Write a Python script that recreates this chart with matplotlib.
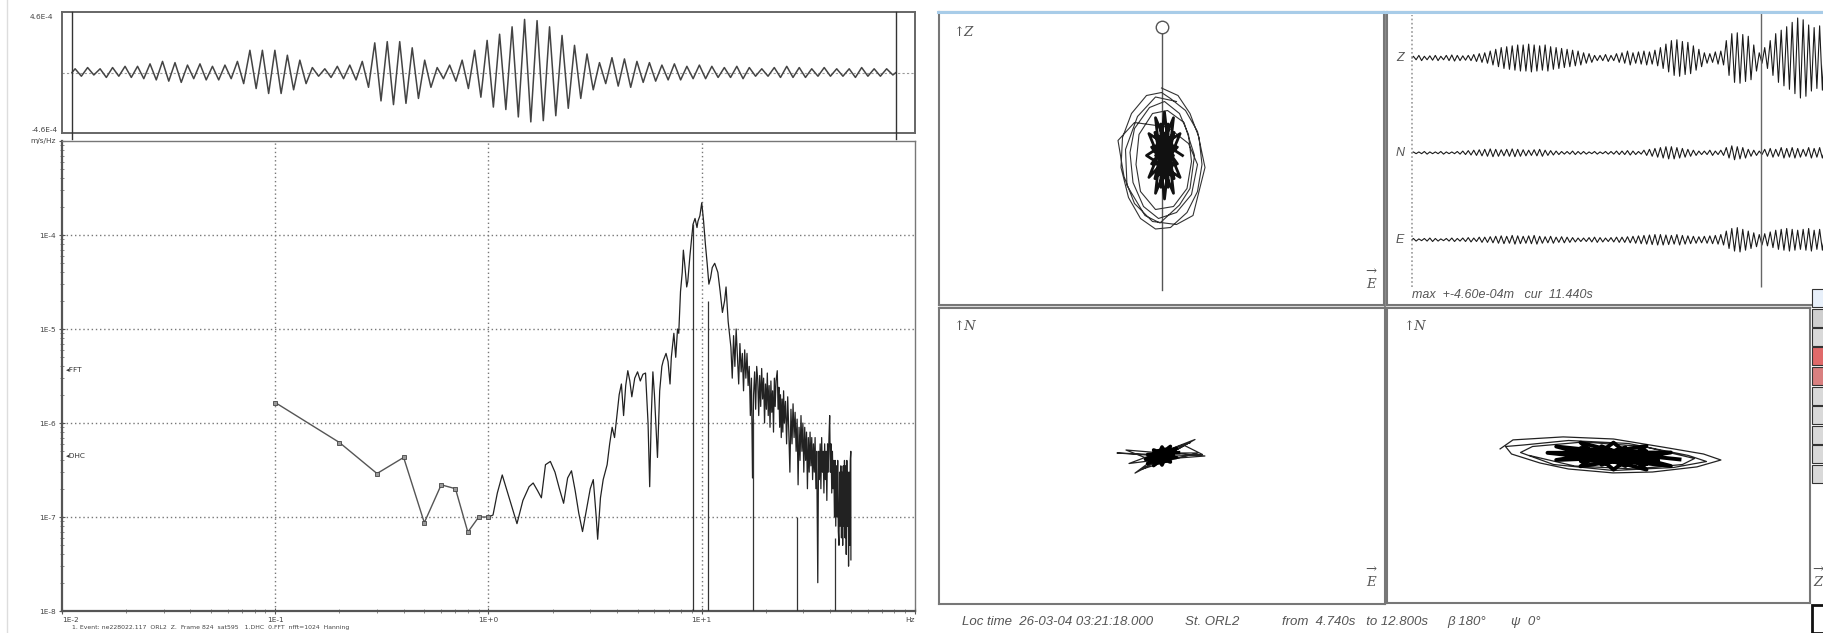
import numpy as np
import matplotlib
matplotlib.use("Agg")
import matplotlib.pyplot as plt
from matplotlib.lines import Line2D
from matplotlib.patches import Rectangle

# ---------------- data ----------------
# top waveform (units 1e-4 m): positive / negative peak of each cycle
wave_up = [0.3, 0.4, 0.3, 0.4, 0.5, 0.5, 0.7, 0.9, 0.8, 0.6, 0.7, 0.5, 0.6,
           0.9, 1.8, 1.8, 1.8, 1.4, 1.0, 0.4, 0.3, 0.5, 0.6,
           0.9, 2.4, 2.5, 2.5, 2.0, 1.0, 0.4, 0.6,
           1.0, 1.8, 2.6, 3.1, 3.7, 4.3, 4.2, 3.7, 3.0, 2.2, 1.5, 0.8,
           1.2, 1.1, 0.9, 0.8, 0.6, 0.7, 0.5, 0.6,
           0.5, 0.4, 0.5, 0.4, 0.3, 0.4, 0.5, 0.4, 0.3, 0.4, 0.3, 0.3, 0.4, 0.3, 0.3]
wave_down = [-0.3, -0.2, -0.4, -0.3, -0.4, -0.5, -0.6, -0.7, -0.8, -0.5, -0.6, -0.6, -0.5,
             -0.9, -1.3, -1.7, -1.7, -1.4, -0.9, -0.3, -0.4, -0.5, -0.6,
             -1.2, -2.3, -2.6, -2.5, -2.1, -1.2, -0.5, -0.7,
             -1.3, -2.0, -2.8, -3.0, -3.6, -4.0, -3.9, -3.5, -2.9, -2.1, -1.4, -0.9,
             -1.1, -1.2, -0.8, -0.7, -0.6, -0.6, -0.5, -0.5,
             -0.4, -0.4, -0.5, -0.3, -0.3, -0.4, -0.4, -0.4, -0.3, -0.3, -0.3, -0.4, -0.3, -0.3, -0.2]

# spectrum: DHC points (m/s/Hz)
dhc_f = [0.1, 0.2, 0.3, 0.4, 0.5, 0.6, 0.7, 0.8, 0.9, 1.0]
dhc_a = [1.65e-6, 6.2e-7, 2.9e-7, 4.3e-7, 8.7e-8, 2.2e-7, 2.0e-7, 6.9e-8, 1.0e-7, 1.0e-7]

# FFT spectrum: (frequency Hz, amplitude in 1e-7 m/s/Hz)
fft_points = [
    (1.0, 1.0), (1.05, 1.05), (1.1, 1.8), (1.16, 2.8), (1.25, 1.6), (1.36, 0.85), (1.45, 1.5),
    (1.55, 2.1), (1.62, 2.3), (1.7, 1.9), (1.77, 1.6), (1.85, 3.6), (1.95, 3.9), (2.05, 3.0),
    (2.15, 2.0), (2.25, 1.4), (2.35, 2.6), (2.45, 3.1), (2.55, 1.9), (2.65, 1.1), (2.76, 0.7),
    (2.9, 1.3), (3.0, 2.0), (3.1, 2.5), (3.2, 1.0), (3.25, 0.58), (3.35, 1.6), (3.45, 2.5),
    (3.6, 3.6), (3.7, 6.0), (3.8, 9.0), (3.9, 7.0), (4.0, 12), (4.1, 20), (4.2, 26), (4.3, 12),
    (4.4, 25), (4.5, 36), (4.6, 28), (4.7, 19), (4.85, 30), (5.0, 35), (5.15, 28), (5.3, 33),
    (5.45, 34), (5.6, 10), (5.7, 2.1), (5.8, 12), (5.9, 35), (6.0, 20), (6.1, 9), (6.2, 4.3),
    (6.35, 22), (6.5, 40), (6.6, 46), (6.8, 55), (6.95, 45), (7.1, 26), (7.2, 50), (7.4, 90),
    (7.55, 50), (7.7, 100), (7.8, 90), (7.95, 250), (8.1, 400), (8.2, 690), (8.35, 450),
    (8.5, 280), (8.6, 320), (8.8, 600), (9.0, 1000), (9.1, 1300), (9.3, 1500), (9.5, 1200),
    (9.6, 1400), (9.8, 1600), (10.0, 2200), (10.2, 1400), (10.4, 800), (10.6, 500), (10.8, 300),
    (11.0, 350), (11.2, 450), (11.5, 500), (11.9, 400), (12.2, 250), (12.5, 150), (12.8, 200),
    (13.0, 280), (13.3, 120), (13.7, 64), (13.9, 30), (14.1, 85), (14.3, 40), (14.5, 100),
    (14.7, 50), (14.9, 26), (15.1, 70), (15.3, 35), (15.5, 55), (15.7, 22), (15.9, 60),
    (16.1, 30), (16.3, 55), (16.5, 25), (16.7, 40), (16.9, 12), (17.1, 30), (17.3, 2.6),
    (17.5, 20), (17.7, 35), (17.9, 14), (18.1, 40), (18.3, 29), (18.5, 12), (18.7, 32),
    (18.9, 15), (19.1, 38), (19.3, 18), (19.5, 30), (19.7, 10), (19.9, 26), (20.1, 14),
    (20.3, 34), (20.5, 12), (20.7, 25), (20.9, 9), (21.1, 28), (21.3, 13), (21.5, 22),
    (21.7, 8), (21.9, 30), (22.1, 15), (22.3, 28), (22.6, 36), (22.8, 14), (23.0, 24),
    (23.2, 9), (23.4, 20), (23.6, 7), (23.8, 18), (24.0, 8), (24.2, 22), (24.4, 10),
    (24.7, 17), (25.0, 6), (25.3, 19), (25.6, 8), (25.9, 3), (26.2, 14), (26.5, 6),
    (26.8, 16), (27.1, 7), (27.4, 13), (27.7, 5), (28.0, 11), (28.3, 2.2), (28.6, 9),
    (28.9, 4), (29.2, 12), (29.5, 5), (29.8, 10), (30.1, 3), (30.4, 9), (30.7, 4), (31.0, 8),
    (31.3, 2), (31.6, 7), (31.9, 3), (32.2, 8), (32.5, 3.5), (32.8, 7), (33.1, 2.5), (33.4, 6),
    (33.7, 3), (34.0, 7), (34.3, 2), (34.6, 5), (35.0, 0.2), (35.3, 5), (35.6, 2.5), (35.9, 6),
    (36.2, 2), (36.5, 7), (36.8, 3), (37.1, 5), (37.4, 1.8), (37.7, 6), (38.0, 2.5), (38.3, 5),
    (38.6, 1.5), (38.9, 6), (39.2, 3), (39.5, 7), (39.8, 12), (40.1, 3), (40.4, 6), (40.7, 1.8),
    (41.0, 5), (41.3, 2), (41.6, 4), (41.9, 1.0), (42.2, 4), (42.5, 0.8), (42.8, 3.5),
    (43.1, 1.0), (43.4, 4), (43.7, 0.7), (44.0, 0.5), (44.3, 3), (44.6, 0.8), (44.9, 3.5),
    (45.2, 0.6), (45.5, 3), (45.8, 0.5), (46.1, 3.5), (46.4, 0.8), (46.7, 4), (47.0, 0.6),
    (47.3, 3.5), (47.6, 0.4), (47.9, 4), (48.2, 0.8), (48.5, 3), (48.8, 0.3), (49.1, 3),
    (49.4, 0.5), (49.7, 4), (50.0, 5), (50.05, 0.35)]
null_f = [9.1, 10.7, 17.3, 28.0, 42.0]
null_top = [1.3e-4, 2.0e-5, 1.1e-6, 1.0e-7, 6.0e-8]
fft_mark, dhc_mark = 3.7e-6, 4.5e-7

# three-component traces: amplitude of each cycle (units 1e-4 m)
TRACE_PERIOD = 0.18
cursor_t = 11.44
z_amp = [0.2, 0.3, 0.2, 0.25, 0.3, 0.2, 0.3, 0.35, 0.3, 0.25, 0.3, 0.4, 0.5, 0.6,
         0.8, 1.0, 1.2, 1.3, 1.4, 1.5, 1.5,
         1.6, 1.5, 1.4, 1.5, 1.3, 1.2, 1.1,
         1.0, 0.9, 0.8, 0.6, 0.5,
         0.3, 0.3, 0.4, 0.3,
         0.5, 0.6, 0.8, 0.6, 0.7, 0.8, 0.7, 0.9,
         1.2, 1.6, 2.0, 2.1, 1.9, 1.8, 1.4, 1.0,
         0.6, 0.5, 0.7, 0.8,
         2.0, 2.8, 2.9, 2.7, 2.5, 1.5,
         0.6, 1.2,
         2.0, 2.8, 3.2, 3.6, 4.1, 4.6, 4.4, 3.8, 3.5, 3.7, 3.3, 3.6]
n_amp = [0.1, 0.1, 0.15, 0.1, 0.1, 0.15, 0.1, 0.1, 0.15, 0.2, 0.25,
         0.3, 0.35, 0.4, 0.45, 0.4, 0.35, 0.4, 0.45, 0.4, 0.35, 0.3, 0.35, 0.4, 0.3, 0.25, 0.2,
         0.15, 0.15, 0.2, 0.15, 0.15, 0.1, 0.15, 0.1, 0.15, 0.15, 0.2,
         0.2, 0.25, 0.2, 0.15, 0.3, 0.4,
         0.5, 0.6, 0.7, 0.7, 0.6, 0.5, 0.4, 0.3, 0.2,
         0.2, 0.3, 0.2, 0.3,
         0.6, 0.8, 0.7, 0.6, 0.4,
         0.3, 0.2, 0.4,
         0.5, 0.4, 0.6, 0.5, 0.6, 0.5, 0.4, 0.6, 0.5, 0.6, 0.5, 0.4]
e_amp = [0.15, 0.1, 0.15, 0.2, 0.15, 0.1, 0.15, 0.2, 0.15, 0.2, 0.25, 0.2, 0.3,
         0.3, 0.35, 0.4, 0.45, 0.4, 0.5, 0.45, 0.4, 0.45, 0.5, 0.4, 0.35, 0.4, 0.3, 0.35, 0.3, 0.25, 0.2,
         0.2, 0.25, 0.3, 0.25, 0.2, 0.25, 0.3, 0.3,
         0.35, 0.4, 0.45, 0.5, 0.55, 0.6, 0.6, 0.55, 0.5, 0.6, 0.5, 0.45,
         0.4, 0.35, 0.4, 0.45, 0.5, 0.6,
         1.0, 1.3, 1.4, 1.2, 1.0, 0.8,
         0.6, 0.7,
         0.9, 1.1, 1.2, 1.3, 1.2, 1.1, 1.2, 1.3, 1.1, 1.2, 1.0, 1.1]
trace_names = ["Z", "N", "E"]
trace_offsets = [0.0, -10.9, -20.9]

# particle motion (units 1e-4 m)
ze_loop_e = [0.0, 0.55, 0.95, 1.25, 1.35, 1.2, 0.85, 0.3, -0.2, -0.7, -1.1, -1.35, -1.3, -1.0, -0.5, 0.0,
             0.3, 0.8, 1.2, 1.45, 1.05, 0.5, -0.3, -0.9, -1.25, -1.45, -0.9, 0.2, 0.9, 1.2, 1.0, 0.5,
             -0.1, -0.6, -0.95, -1.05, -0.9, -0.4, 0.1, 0.6, 0.9, 1.0, 0.85, 0.4, -0.2, -0.7, -0.85,
             -0.75, -0.3, 0.2, 0.75, 1.1, 0.95, 0.6, -0.05, -0.55, -1.15, -1.2, -0.8, -0.2, 0.5]
ze_loop_z = [2.35, 2.1, 1.5, 0.7, -0.2, -1.1, -1.8, -2.3, -2.35, -2.0, -1.3, -0.3, 0.7, 1.5, 2.1, 2.2,
             2.0, 1.6, 0.9, -0.3, -1.9, -2.2, -2.1, -1.5, -0.6, 0.6, 1.2, 1.05, 0.5, -0.2, -1.2, -1.8,
             -2.0, -1.6, -0.8, 0.2, 1.0, 1.7, 1.9, 1.5, 0.8, -0.1, -1.0, -1.6, -1.7, -1.1, -0.2,
             0.8, 1.5, 1.6, 1.2, 0.1, -1.0, -1.55, -2.15, -1.9, -0.9, 0.3, 1.4, 2.05, 1.9]
ze_core_e = [0.7, -0.42, 0.4, 0.1, -0.2, 0.62, -0.5, 0.62, -0.2, 0.1, 0.4, -0.42,
             0.53, -0.33, 0.42, -0.02, -0.02, 0.42, -0.33, 0.53, -0.22, 0.22, 0.22, -0.22,
             0.4, -0.16, 0.25, 0.1, -0.05, 0.36, -0.2, 0.36, -0.05, 0.1,
             0.28, -0.06, 0.19, 0.1, 0.01, 0.26, -0.08, 0.26, 0.01, 0.1, 0.19, -0.06]
ze_core_z = [0.1, 0.83, -1.16, 1.55, -1.16, 0.83, 0.1, -0.63, 1.36, -1.35, 1.36, -0.63,
             0.38, 0.38, -0.67, 1.15, -0.96, 0.87, -0.18, -0.18, 0.87, -0.96, 1.15, -0.67,
             0.1, 0.46, -0.53, 0.83, -0.53, 0.46, 0.1, -0.26, 0.73, -0.63,
             0.1, 0.32, -0.28, 0.54, -0.28, 0.32, 0.1, -0.12, 0.48, -0.34, 0.48, -0.12]
pol_z = [4.38, -4.38]

ne_loop_e = [0.0, -1.5, -0.3, -1.1, 0.1, 1.43, 0.3, 1.1, 0.2, 0.95, 0.0, -0.9, -0.2, -1.2, 0.0,
             1.2, 0.4, -0.7, 0.1, 0.75, 1.35, 0.5]
ne_loop_n = [0.0, 0.1, 0.05, -0.25, -0.1, 0.0, 0.1, 0.55, 0.2, 0.45, 0.1, -0.57, -0.2, 0.2, 0.1,
             0.1, -0.1, -0.45, 0.0, 0.35, 0.05, 0.0]
ne_core_e = [0.55, -0.48, 0.28, 0.0, -0.28, 0.48, -0.55, 0.48, -0.28, 0.0, 0.28, -0.48,
             0.37, -0.37, 0.27, -0.1, -0.1, 0.27, -0.37, 0.37, -0.27, 0.1, 0.1, -0.27,
             0.25, -0.21, 0.12, 0.0, -0.12, 0.21, -0.25, 0.21, -0.12, 0.0, 0.12, -0.21]
ne_core_n = [0.11, 0.05, -0.2, 0.3, -0.32, 0.25, -0.11, -0.05, 0.2, -0.3, 0.32, -0.25,
             0.12, -0.02, -0.1, 0.18, -0.22, 0.2, -0.12, 0.02, 0.1, -0.18, 0.22, -0.2,
             0.05, 0.02, -0.09, 0.135, -0.14, 0.11, -0.05, -0.02, 0.09, -0.135, 0.14, -0.11]

nz_loop_z = [-3.28, -2.85, -1.18, 0.5, 2.15, 3.5, 4.08, 3.28, 1.8, 0.48, -1.0, -1.95, -2.9, -3.1,
             -2.5, -1.0, 1.0, 3.0, 3.6, 2.5, 0.5, -1.5, -2.6, -2.2, -0.5, 1.5, 3.2, 2.8, 1.2, -0.8, -2.3]
nz_loop_n = [0.22, 0.52, 0.62, 0.55, 0.28, 0.05, -0.15, -0.38, -0.55, -0.58, -0.45, -0.25, 0.05, 0.3,
             0.35, 0.5, 0.4, 0.0, -0.2, -0.4, -0.5, -0.3, 0.1, 0.3, 0.45, 0.3, -0.1, -0.3, -0.45, -0.35, 0.0]
nz_core_z = [2.7, -1.41, 1.6, 0.5, -0.6, 2.41, -1.7, 2.41, -0.6, 0.5, 1.6, -1.41,
             1.99, -0.99, 1.59, 0.1, 0.1, 1.59, -0.99, 1.99, -0.59, 0.9, 0.9, -0.59,
             1.38, -0.26, 0.94, 0.5, 0.06, 1.26, -0.38, 1.26, 0.06, 0.5, 0.94, -0.26]
nz_core_n = [-0.13, 0.3, -0.47, 0.43, -0.36, 0.1, 0.09, -0.35, 0.43, -0.47, 0.32, -0.15,
             -0.01, 0.13, -0.29, 0.31, -0.31, 0.15, -0.03, -0.17, 0.25, -0.35, 0.27, -0.19,
             -0.06, 0.1, -0.18, 0.16, -0.16, 0.06, 0.02, -0.13, 0.14, -0.2, 0.12, -0.09]

footer_left = "1. Event: ne228022.117  ORL2  Z.  Frame 824  sat595   1.DHC  0.FFT  nfft=1024  Hanning"
info_max = "max  +-4.60e-04m   cur  11.440s"

# ---------------- figure ----------------
W, H = 1823, 633
fig = plt.figure(figsize=(W / 100, H / 100), dpi=100)
fig.patch.set_facecolor("white")
FRAME = "#666666"
TXT = "#555555"
SMALL = 5.3


def ax_px(x0, y0, x1, y1):
    return fig.add_axes([x0 / W, 1 - y1 / H, (x1 - x0) / W, (y1 - y0) / H])


def fline(xs, ys, **kw):
    fig.add_artist(Line2D([x / W for x in xs], [1 - y / H for y in ys],
                          transform=fig.transFigure, **kw))


def ftext(x, y, s, **kw):
    fig.text(x / W, 1 - y / H, s, **kw)


def frame(ax, color=FRAME, lw=1.4):
    for s in ax.spines.values():
        s.set_color(color)
        s.set_linewidth(lw)
    ax.set_xticks([])
    ax.set_yticks([])


# faint window edge at left
fline([7, 7], [0, 633], color="#dddddd", lw=1)

# ---- top waveform ----
axw = ax_px(62, 12, 915, 133)
frame(axw)
n = len(wave_up)
peaks = np.empty(2 * n)
peaks[0::2] = wave_up
peaks[1::2] = wave_down
tw = np.concatenate([[0.0], (np.arange(2 * n) + 0.5) / (2 * n), [1.0]])
yw = np.concatenate([[0.0], peaks, [0.0]])
axw.plot(tw, yw, color="#444444", lw=1.1)
axw.axhline(0, color="#999999", lw=0.8, ls=(0, (2, 2)), zorder=0)
axw.set_xlim(-(72 - 62) / 824, (915 - 72) / 824)
axw.set_ylim(-4.9, 4.9)
for xs in (72, 896):
    fline([xs, xs], [12, 139], color="#333333", lw=1.0)
ftext(53, 17, "4.6E-4", fontsize=SMALL, color="#444", ha="right", va="center")
ftext(58, 130, "-4.6E-4", fontsize=SMALL, color="#444", ha="right", va="center")

# ---- spectrum ----
axs = ax_px(62, 141, 915, 611)
axs.set_xscale("log")
axs.set_yscale("log")
axs.set_xlim(0.01, 100)
axs.set_ylim(1e-8, 1e-3)
for s in ("top", "right"):
    axs.spines[s].set_color("#777777")
    axs.spines[s].set_linewidth(1.0)
for s in ("left", "bottom"):
    axs.spines[s].set_color("#555555")
    axs.spines[s].set_linewidth(1.6)
for yv in [1e-4, 1e-5, 1e-6, 1e-7]:
    axs.axhline(yv, color="#777777", lw=1.0, ls=(0, (1, 2)), zorder=0)
for xv in [0.1, 1.0, 10.0]:
    axs.axvline(xv, color="#777777", lw=1.0, ls=(0, (1, 2)), zorder=0)
axs.set_xticks([0.01, 0.1, 1.0, 10.0, 100.0])
axs.set_xticklabels(["1E-2", "1E-1", "1E+0", "1E+1", "Hz"], fontsize=SMALL, color="#444")
axs.set_yticks([1e-8, 1e-7, 1e-6, 1e-5, 1e-4, 1e-3])
axs.set_yticklabels(["1E-8", "1E-7", "1E-6", "1E-5", "1E-4", "m/s/Hz"], fontsize=SMALL, color="#444")
axs.tick_params(which="major", length=5, width=0.8, color="#555", pad=2, direction="inout")
axs.tick_params(which="minor", length=3, width=0.6, color="#777", direction="inout",
                labelleft=False, labelbottom=False)
lbls = axs.get_xticklabels()
lbls[0].set_ha("left")
lbls[-1].set_ha("right")
fft_f = [p[0] for p in fft_points]
fft_a = [p[1] * 1e-7 for p in fft_points]
axs.plot(fft_f, fft_a, color="#222222", lw=0.9, zorder=3)
axs.vlines(null_f, 1e-8, null_top, color="#333333", lw=0.9, zorder=3)
axs.plot(dhc_f, dhc_a, color="#555555", lw=1.0, marker="s", ms=3, mfc="#999999",
         mec="#444444", mew=0.6, zorder=3)
axs.text(0.0104, fft_mark, "\u25c2FFT", fontsize=SMALL, color="#333", va="center", ha="left")
axs.text(0.0104, dhc_mark, "\u25c2DHC", fontsize=SMALL, color="#333", va="center", ha="left")
ftext(72, 628, footer_left, fontsize=4.4, color="#444", va="center", ha="left")

# ---- right side: particle motion panels ----
LAB = dict(color=TXT, fontsize=9.5, family="DejaVu Serif", style="italic")


def hodo(x0, y0, x1, y1):
    ax = ax_px(x0, y0, x1, y1)
    frame(ax, "#777777", 1.5)
    hw = (x1 - x0) / 2 / 30.0
    hh = (y1 - y0) / 2 / 30.0
    ax.set_xlim(-hw, hw)
    ax.set_ylim(-hh, hh)
    return ax


ax_ze = hodo(939, 12, 1384, 305)
ax_ze.plot([0, 0], pol_z, color="#555555", lw=1.0)
ax_ze.plot([0], [pol_z[0]], marker="o", ms=9, mfc="white", mec="#555555", mew=1.0)
ax_ze.plot(ze_loop_e, ze_loop_z, color="#333333", lw=0.8)
ax_ze.plot(ze_core_e, ze_core_z, color="#111111", lw=2.0)

ax_ne = hodo(939, 308, 1385, 604)
ax_ne.plot(ne_loop_e, ne_loop_n, color="#222222", lw=0.9)
ax_ne.plot(ne_core_e, ne_core_n, color="#000000", lw=2.6)

ax_nz = hodo(1387, 308, 1810, 603)
ax_nz.plot(nz_loop_z, nz_loop_n, color="#222222", lw=0.9)
ax_nz.plot(nz_core_z, nz_core_n, color="#000000", lw=2.8)

# panel labels
ftext(953, 32, "\u2191Z", va="center", **LAB)
ftext(953, 327, "\u2191N", va="center", **LAB)
ftext(1403, 327, "\u2191N", va="center", **LAB)
for (xx, yy, s) in [(1371, 283, "E"), (1371, 581, "E"), (1818, 581, "Z")]:
    ftext(xx, yy - 12, "\u2192", ha="center", va="center", **LAB)
    ftext(xx, yy + 2, s, ha="center", va="center", **LAB)

# ---- three-component traces ----
ax3 = ax_px(1387, 12, 1850, 305)
frame(ax3, "#777777", 1.5)
ax3.spines["right"].set_visible(False)
ax3.set_xlim((1387 - 1412) / 30.5, (1850 - 1412) / 30.5)
ax3.set_ylim(-28.4, 5.29)
for amp, off, name in zip([z_amp, n_amp, e_amp], trace_offsets, trace_names):
    a = np.asarray(amp)
    m = len(a)
    tt = np.arange(2 * m) * TRACE_PERIOD / 2 + TRACE_PERIOD / 4
    yy = np.empty(2 * m)
    yy[0::2] = a
    yy[1::2] = -a
    tt = np.concatenate([[0.0], tt])
    yy = np.concatenate([[0.0], yy])
    ax3.plot(tt, yy + off, color="#1a1a1a", lw=0.8)
    ax3.text(-0.4, off, name, ha="center", va="center", color=TXT, fontsize=9,
             family="Liberation Sans", style="italic")
ax3.vlines([0.0], -26.3, 4.9, color="#999999", lw=1.2, linestyles=(0, (1, 1.5)))
ax3.vlines([cursor_t], -26.3, 5.29, color="#666666", lw=1.0)
ftext(1412, 295, info_max, fontsize=9, color=TXT, family="Liberation Sans", style="italic",
      va="center", ha="left")

# double frame lines and window top border
fline([1385, 1385], [12, 604], color="#777777", lw=1.2)
fline([939, 1810], [306.5, 306.5], color="#777777", lw=1.0)
fline([938, 1823], [12, 12], color="#a8cce8", lw=2.2)

# bottom status line
STAT = dict(fontsize=9.5, color=TXT, family="Liberation Sans", style="italic", va="center", ha="left")
ftext(962, 622, "Loc time  26-03-04 03:21:18.000", **STAT)
ftext(1185, 622, "St. ORL2", **STAT)
ftext(1282, 622, "from  4.740s   to 12.800s", **STAT)
ftext(1447, 622, "\u03b2 180\u00b0", **STAT)
ftext(1511, 622, "\u03c8  0\u00b0", **STAT)

# toolbar stub at right edge
tb_colors = ["#e8f0fa", "#cfcfcf", "#d9d9d9", "#e06a6a", "#d98080", "#d9d9d9", "#d9d9d9",
             "#d9d9d9", "#d9d9d9", "#d9d9d9"]
for i, c in enumerate(tb_colors):
    y0 = 289 + i * 19.5
    fig.add_artist(Rectangle((1812 / W, 1 - (y0 + 18) / H), 14 / W, 18 / H,
                             transform=fig.transFigure, facecolor=c, edgecolor="#333333", lw=0.8))
fig.add_artist(Rectangle((1812 / W, 0), 14 / W, 28 / H, transform=fig.transFigure,
                         facecolor="white", edgecolor="#111111", lw=2.0))

fig.savefig("out.png", dpi=100)
